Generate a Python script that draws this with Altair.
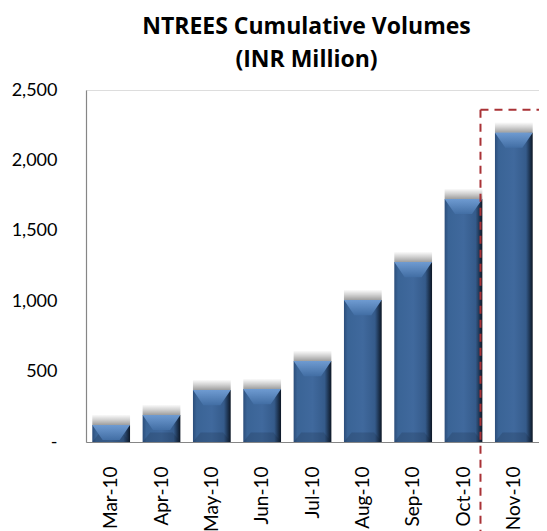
import altair as alt
import pandas as pd

months = ["Mar-10", "Apr-10", "May-10", "Jun-10", "Jul-10", "Aug-10", "Sep-10", "Oct-10", "Nov-10"]
volumes = [121, 192, 369, 376, 575, 1008, 1278, 1726, 2197]
y_ticks = [0, 500, 1000, 1500, 2000, 2500]
box_anchor_month = ["Oct-10"]
box_top = [2360]

df = pd.DataFrame({"month": months, "value": volumes})
box_df = pd.DataFrame({"month": box_anchor_month, "top": box_top})

W, H = 453, 352
FONT = "Lato"

x_enc = alt.X("month:N", sort=months, title=None,
              scale=alt.Scale(paddingInner=0.25, paddingOuter=0.125),
              axis=alt.Axis(labelAngle=270, labelFontSize=19, labelFont=FONT, labelColor="#000000",
                            ticks=False, tickSize=0, labelPadding=24, domainColor="#868686",
                            domainWidth=1.2, grid=False))
y_scale = alt.Scale(domain=[0, 2500], nice=False)

base = alt.Chart(df)

shadow = base.transform_calculate(sh="datum.value + 75").mark_bar(
    color=alt.Gradient(gradient="linear", x1=0, x2=0, y1=1, y2=0,
                       stops=[alt.GradientStop(offset=0, color="rgba(0,0,0,0.38)"),
                              alt.GradientStop(offset=0.5, color="rgba(0,0,0,0.18)"),
                              alt.GradientStop(offset=1, color="rgba(0,0,0,0)")])
).encode(
    x=x_enc,
    y=alt.Y("sh:Q", scale=y_scale),
    y2="value:Q",
)

bars = base.mark_bar(
    color=alt.Gradient(gradient="linear", x1=0, x2=1, y1=0, y2=0,
                       stops=[alt.GradientStop(offset=0, color="#2c4e7b"),
                              alt.GradientStop(offset=0.1, color="#3a6496"),
                              alt.GradientStop(offset=0.5, color="#40699d"),
                              alt.GradientStop(offset=0.82, color="#355b8b"),
                              alt.GradientStop(offset=0.92, color="#1e3553"),
                              alt.GradientStop(offset=1, color="#0d1725")])
).encode(
    x=x_enc,
    y=alt.Y("value:Q", scale=y_scale, title=None,
            axis=alt.Axis(values=y_ticks, labelExpr="datum.value == 0 ? '-' : format(datum.value, ',')",
                          labelFontSize=18, labelFont=FONT, labelColor="#000000", ticks=False, tickSize=0,
                          labelPadding=29, domainColor="#868686", domainWidth=1.2, grid=False)),
)

top_bevel = base.mark_point(
    shape="M-1,0 L1,0 L0.45,0.8 L-0.45,0.8 Z", size=1425, filled=True, opacity=1, strokeWidth=0,
    fill=alt.Gradient(gradient="linear", x1=0, x2=0, y1=0, y2=1,
                      stops=[alt.GradientStop(offset=0, color="#6f9bd1"),
                             alt.GradientStop(offset=1, color="#426ea4")])
).encode(x=x_enc, y=alt.Y("value:Q", scale=y_scale))

bottom_bevel = base.mark_point(
    shape="M-1,0 L1,0 L0.6,-0.5 L-0.6,-0.5 Z", size=1425, filled=True, opacity=0.18, strokeWidth=0,
    fill="#0f1c2e"
).encode(x=x_enc, y=alt.datum(0, scale=y_scale))

box_color = "#a93236"
box_left = alt.Chart(box_df).mark_rule(color=box_color, strokeWidth=2, strokeDash=[8, 6]).encode(
    x=alt.X("month:N", sort=months, bandPosition=0.95),
    y=alt.Y("top:Q", scale=y_scale),
    y2=alt.value(H + 89),
)
box_top_line = alt.Chart(box_df).mark_rule(color=box_color, strokeWidth=2, strokeDash=[8, 6]).encode(
    x=alt.X("month:N", sort=months, bandPosition=0.95),
    x2=alt.value(W),
    y=alt.Y("top:Q", scale=y_scale),
)

chart = alt.layer(shadow, bars, bottom_bevel, top_bevel, box_left, box_top_line).properties(
    width=W, height=H,
    autosize=alt.AutoSizeParams(type="none"),
    padding={"left": 78, "top": 82, "right": 0, "bottom": 89},
    title=alt.TitleParams(["NTREES Cumulative Volumes", "(INR Million)"], font="Open Sans", fontSize=23,
                          fontWeight="bold", color="#000000", anchor="middle", dx=-6, offset=9,
                          lineHeight=33),
).configure_view(stroke=None).configure(background="white")

chart.save("out.html", embed_options={"renderer": "svg", "actions": False})
